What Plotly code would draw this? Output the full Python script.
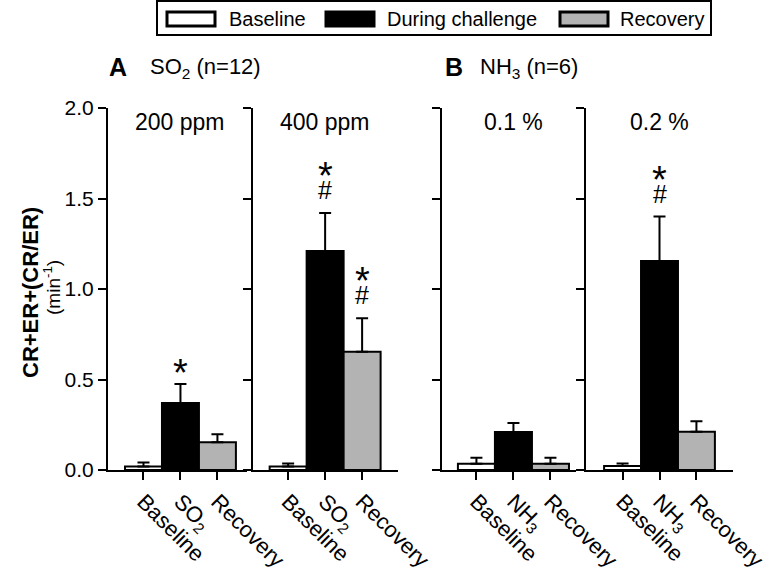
import plotly.graph_objects as go

# ---------------- data ----------------
conditions = ["Baseline", "During challenge", "Recovery"]
condition_colors = ["white", "black", "#b3b3b3"]
panel_titles = ["200 ppm", "400 ppm", "0.1 %", "0.2 %"]
gas_ticks = ["SO<sub>2</sub>", "SO<sub>2</sub>", "NH<sub>3</sub>", "NH<sub>3</sub>"]
tick_first = "Baseline"
tick_last = "Recovery"

baseline_mean = [0.02, 0.02, 0.035, 0.022]
baseline_sem = [0.022, 0.016, 0.032, 0.014]
challenge_mean = [0.37, 1.21, 0.21, 1.155]
challenge_sem = [0.105, 0.21, 0.05, 0.245]
recovery_mean = [0.153, 0.654, 0.035, 0.212]
recovery_sem = [0.045, 0.184, 0.032, 0.058]

# significance marks: (panel index, condition index)
star_marks = [(0, 1), (1, 1), (1, 2), (3, 1)]
hash_marks = [(1, 1), (1, 2), (3, 1)]

y_ticks = [0.0, 0.5, 1.0, 1.5, 2.0]

W, H = 769, 568
FONT = "Liberation Sans, Arial, sans-serif"

def px(x):
    return x / W

def py(y):
    return 1 - y / H

# panel layout in pixels (left, right) and x ranges
panel_px = [(108, 247), (253, 398), (442, 576), (586, 733)]
panel_rng = [(-0.96, 2.80), (-0.95, 2.97), (-0.93, 2.69), (-0.99, 2.99)]
y_dom = [py(470), py(108)]

means = [baseline_mean, challenge_mean, recovery_mean]
sems = [baseline_sem, challenge_sem, recovery_sem]

fig = go.Figure()
for p in range(4):
    xa = "x" if p == 0 else f"x{p+1}"
    ya = "y" if p == 0 else f"y{p+1}"
    for c in range(3):
        fig.add_trace(go.Bar(
            x=[c], y=[means[c][p]], width=1.0,
            xaxis=xa, yaxis=ya, name=conditions[c], showlegend=False,
            marker=dict(color=condition_colors[c], line=dict(color="black", width=2)),
            error_y=dict(type="data", symmetric=False, array=[sems[c][p]], arrayminus=[0],
                         color="black", thickness=2, width=6),
        ))

axis_common = dict(showline=True, linecolor="black", linewidth=2, ticks="outside",
                   ticklen=8, tickwidth=2, tickcolor="black", showgrid=False, zeroline=False,
                   automargin=False,
                   tickfont=dict(family=FONT, size=21, color="black"))
layout = {}
for p in range(4):
    xk = "xaxis" if p == 0 else f"xaxis{p+1}"
    yk = "yaxis" if p == 0 else f"yaxis{p+1}"
    ya = "y" if p == 0 else f"y{p+1}"
    xa = "x" if p == 0 else f"x{p+1}"
    layout[xk] = dict(axis_common, domain=[px(panel_px[p][0]), px(panel_px[p][1])],
                      range=list(panel_rng[p]), anchor=ya,
                      tickvals=[0, 1, 2], ticktext=[tick_first, gas_ticks[p], tick_last],
                      tickangle=45, tickfont=dict(family=FONT, size=22, color="black"))
    layout[yk] = dict(axis_common, domain=y_dom, range=[0, 2.0], anchor=xa,
                      tickvals=y_ticks, ticktext=[f"{v:.1f}" for v in y_ticks],
                      showticklabels=(p == 0))
fig.update_layout(**layout)

ann = []
# panel titles
for p in range(4):
    xa = "x" if p == 0 else f"x{p+1}"
    ann.append(dict(text=panel_titles[p], x=1, xref=xa, y=py(122), yref="paper",
                    showarrow=False, font=dict(family=FONT, size=23, color="black"),
                    xanchor="center", yanchor="middle"))
# significance marks
for (p, c) in star_marks:
    xa = "x" if p == 0 else f"x{p+1}"
    ya = "y" if p == 0 else f"y{p+1}"
    top = means[c][p] + sems[c][p]
    shift = 44 if (p, c) in hash_marks else 18
    ann.append(dict(text="*", x=c, xref=xa, y=top, yref=ya, showarrow=False,
                    font=dict(family=FONT, size=38, color="black"),
                    xanchor="center", yanchor="middle", yshift=shift - 7))
for (p, c) in hash_marks:
    xa = "x" if p == 0 else f"x{p+1}"
    ya = "y" if p == 0 else f"y{p+1}"
    top = means[c][p] + sems[c][p]
    ann.append(dict(text="#", x=c, xref=xa, y=top, yref=ya, showarrow=False,
                    font=dict(family=FONT, size=25, color="black"),
                    xanchor="center", yanchor="middle", yshift=23))

# panel letters and group headers
ann.append(dict(text="<b>A</b>", x=px(107), y=py(67), xref="paper", yref="paper",
                showarrow=False, xanchor="left", yanchor="middle",
                font=dict(family=FONT, size=25, color="black")))
ann.append(dict(text="SO<sub>2</sub> (n=12)", x=px(148), y=py(68), xref="paper", yref="paper",
                showarrow=False, xanchor="left", yanchor="middle",
                font=dict(family=FONT, size=22, color="black")))
ann.append(dict(text="<b>B</b>", x=px(443), y=py(67), xref="paper", yref="paper",
                showarrow=False, xanchor="left", yanchor="middle",
                font=dict(family=FONT, size=25, color="black")))
ann.append(dict(text="NH<sub>3</sub> (n=6)", x=px(478), y=py(68), xref="paper", yref="paper",
                showarrow=False, xanchor="left", yanchor="middle",
                font=dict(family=FONT, size=22, color="black")))
# y-axis title
ann.append(dict(text="<b>CR+ER+(CR/ER)</b>", x=px(30), y=py(293), xref="paper", yref="paper",
                showarrow=False, textangle=-90, xanchor="center", yanchor="middle",
                font=dict(family=FONT, size=22, color="black")))
ann.append(dict(text="(min<sup>-1</sup>)", x=px(52), y=py(288), xref="paper", yref="paper",
                showarrow=False, textangle=-90, xanchor="center", yanchor="middle",
                font=dict(family=FONT, size=19, color="black")))

# legend (drawn manually)
shapes = [dict(type="rect", xref="paper", yref="paper", x0=px(157), x1=px(711),
               y0=py(35), y1=py(1), line=dict(color="black", width=2), fillcolor="white")]
leg_rect_x = [167, 326, 560]
leg_text_x = [227, 385, 618]
for c in range(3):
    shapes.append(dict(type="rect", xref="paper", yref="paper",
                       x0=px(leg_rect_x[c]), x1=px(leg_rect_x[c] + 48),
                       y0=py(26), y1=py(12), line=dict(color="black", width=3),
                       fillcolor=condition_colors[c]))
    ann.append(dict(text=conditions[c], x=px(leg_text_x[c]), y=py(19), xref="paper",
                    yref="paper", showarrow=False, xanchor="left", yanchor="middle",
                    font=dict(family=FONT, size=20, color="black")))

fig.update_layout(width=W, height=H, margin=dict(l=0, r=0, t=0, b=0, autoexpand=False),
                  paper_bgcolor="white", plot_bgcolor="white",
                  annotations=ann, shapes=shapes, bargap=0, showlegend=False,
                  font=dict(family=FONT, color="black"))

fig.write_html("out.html", config={"displayModeBar": False, "staticPlot": True},
               post_script="document.body.style.margin='0px';document.body.style.overflow='hidden';")
